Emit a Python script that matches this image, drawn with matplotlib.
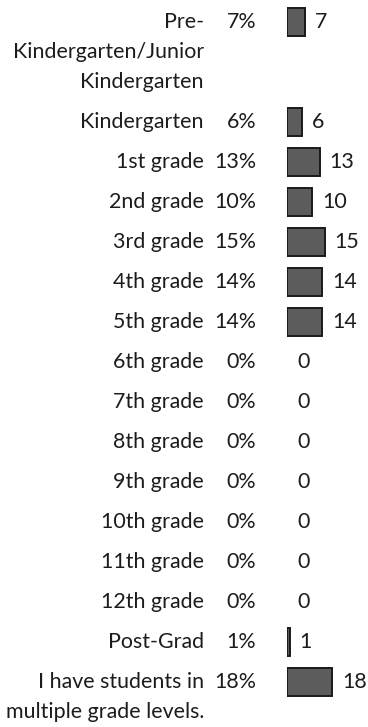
import matplotlib
matplotlib.use("Agg")
import matplotlib.pyplot as plt

# data
labels = ["Pre-\nKindergarten/Junior\nKindergarten", "Kindergarten",
          "1st grade", "2nd grade", "3rd grade", "4th grade", "5th grade",
          "6th grade", "7th grade", "8th grade", "9th grade", "10th grade",
          "11th grade", "12th grade", "Post-Grad",
          "I have students in\nmultiple grade levels."]
percents = ["7%", "6%", "13%", "10%", "15%", "14%", "14%", "0%", "0%", "0%",
            "0%", "0%", "0%", "0%", "1%", "18%"]
counts = [7, 6, 13, 10, 15, 14, 14, 0, 0, 0, 0, 0, 0, 0, 1, 18]

W, H = 368, 727
plt.rcParams['font.family'] = ['Lato', 'DejaVu Sans']
txt_color = "#1c1c1c"
fs = 15.4

fig = plt.figure(figsize=(W / 100, H / 100), dpi=100)
ax = fig.add_axes([0, 0, 1, 1])
ax.set_xlim(0, W)
ax.set_ylim(H, 0)
ax.axis("off")

# bar axes: x in counts, 2.5 px per respondent, starting at x=287px
bar_left = 287
px_per = 2.5
bax = fig.add_axes([bar_left / W, 0, 1 - bar_left / W, 1])
bax.set_xlim(0, (W - bar_left) / px_per)
bax.set_ylim(H, 0)
bax.axis("off")

row_gap = 40
line_gap = 30
y = 22
rows_y = []
for lab in labels:
    rows_y.append(y)
    lines = lab.split("\n")
    for i, ln in enumerate(lines):
        ax.text(204, y + i * line_gap, ln, ha="right", va="center",
                fontsize=fs, color=txt_color)
    y += row_gap + (len(lines) - 1) * line_gap

for yy, p in zip(rows_y, percents):
    ax.text(256, yy, p, ha="right", va="center", fontsize=fs, color=txt_color)

# no outline for empty bars
widths = [1.4 if c > 0 else 0 for c in counts]
bax.barh(rows_y, counts, height=28, color="#5c5c5c", edgecolor="#1a1a1a",
         linewidth=widths)
for yy, c in zip(rows_y, counts):
    bax.text(c + 10 / px_per, yy, str(c), ha="left", va="center",
             fontsize=fs, color=txt_color)

fig.savefig("out.png", dpi=100)
